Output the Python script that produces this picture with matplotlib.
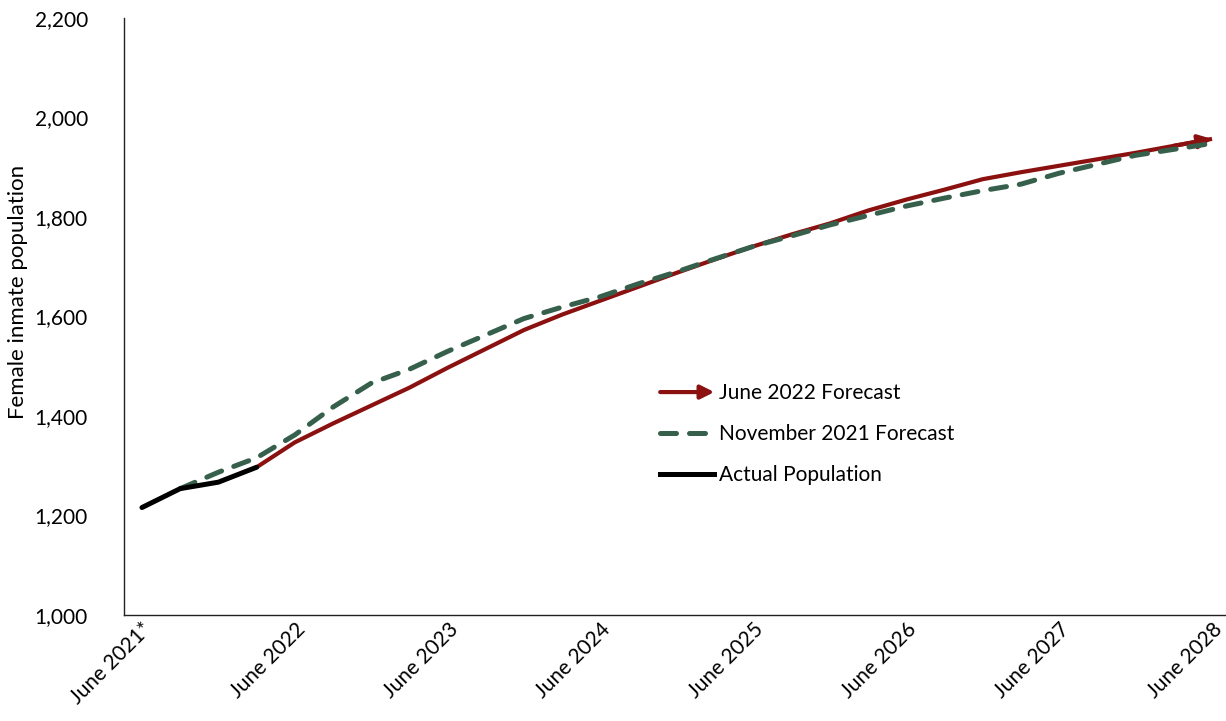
import matplotlib
matplotlib.use("Agg")
import matplotlib.pyplot as plt
from matplotlib.patches import FancyArrowPatch
from matplotlib.lines import Line2D
from matplotlib.legend_handler import HandlerBase

# quarterly points, June 2021 .. June 2028 (29 quarters)
quarters = list(range(29))
tick_labels = ["June 2021*", "June 2022", "June 2023", "June 2024",
               "June 2025", "June 2026", "June 2027", "June 2028"]

actual = [1216, 1254, 1267, 1297]

# June 2022 forecast starts at the last actual quarter (index 3)
june2022 = [1297, 1347, 1385, 1421, 1457, 1497, 1535, 1573, 1604, 1632,
            1660, 1688, 1715, 1741, 1765, 1787, 1813, 1835, 1855, 1876,
            1890, 1903, 1916, 1929, 1943, 1957]

# November 2021 forecast starts at index 1
nov2021 = [1254, 1287, 1316, 1362, 1418, 1466, 1494, 1530, 1563, 1596,
           1619, 1640, 1666, 1690, 1716, 1741, 1762, 1784, 1803, 1822,
           1838, 1853, 1866, 1888, 1906, 1924, 1936, 1948]

RED = "#8B1111"
GREEN = "#36604C"


class ArrowHandler(HandlerBase):
    def create_artists(self, legend, orig_handle, xdescent, ydescent,
                       width, height, fontsize, trans):
        y = height / 2 - ydescent
        arrow = FancyArrowPatch((-xdescent, y), (-xdescent + width, y),
                                arrowstyle="-|>", mutation_scale=20,
                                lw=3, color=RED, shrinkA=0, shrinkB=0,
                                transform=trans)
        return [arrow]


def main():
    plt.rcParams["font.family"] = ["Lato", "DejaVu Sans"]

    fig = plt.figure(figsize=(12.26, 7.21), dpi=100)
    ax = fig.add_axes([124 / 1226, 106 / 721, 1101 / 1226, 597 / 721])

    x_red = quarters[3:]
    x_green = quarters[1:]
    x_act = quarters[:4]

    ax.plot(x_red, june2022, color=RED, lw=3, solid_capstyle="butt", zorder=2)
    ax.annotate("", xy=(x_red[-1], june2022[-1]), xytext=(x_red[-2], june2022[-2]),
                arrowprops=dict(arrowstyle="-|>", color=RED, lw=3,
                                mutation_scale=20, shrinkA=0, shrinkB=0),
                zorder=2)
    ax.plot(x_green, nov2021, color=GREEN, lw=3.6, dashes=(3.2, 2.6),
            dash_capstyle="round", zorder=3)
    ax.plot(x_act, actual, color="black", lw=3.6, solid_capstyle="round",
            solid_joinstyle="round", zorder=4)

    ax.set_xlim(-0.47, 28.34)
    ax.set_ylim(1000, 2200)
    ax.set_yticks(range(1000, 2201, 200))
    ax.set_yticklabels([f"{v:,}" for v in range(1000, 2201, 200)], fontsize=15)
    ax.set_xticks(quarters[::4])
    ax.set_xticklabels(tick_labels, fontsize=15, rotation=45, ha="right",
                       va="top", rotation_mode="anchor")
    ax.tick_params(axis="both", length=0)
    ax.tick_params(axis="y", pad=26)
    ax.tick_params(axis="x", pad=3)

    for side in ["top", "right"]:
        ax.spines[side].set_visible(False)
    for side in ["left", "bottom"]:
        ax.spines[side].set_linewidth(1.0)
        ax.spines[side].set_color("#222222")

    fig.text(18 / 1226, 1 - 292 / 721, "Female inmate population", rotation=90,
             ha="center", va="center", fontsize=16)

    handles = [
        Line2D([], [], color=RED),
        Line2D([], [], color=GREEN, lw=3.6, dashes=(3.2, 2.6), dash_capstyle="round"),
        Line2D([], [], color="black", lw=3.6),
    ]
    labels = ["June 2022 Forecast", "November 2021 Forecast", "Actual Population"]
    ax.legend(handles, labels, loc="upper left", bbox_to_anchor=(0.487, 0.388),
              frameon=False, fontsize=15, handlelength=2.6, handletextpad=0.2,
              labelspacing=1.0, borderpad=0, borderaxespad=0,
              handler_map={handles[0]: ArrowHandler()})

    fig.savefig("out.png", dpi=100)


if __name__ == "__main__":
    main()
